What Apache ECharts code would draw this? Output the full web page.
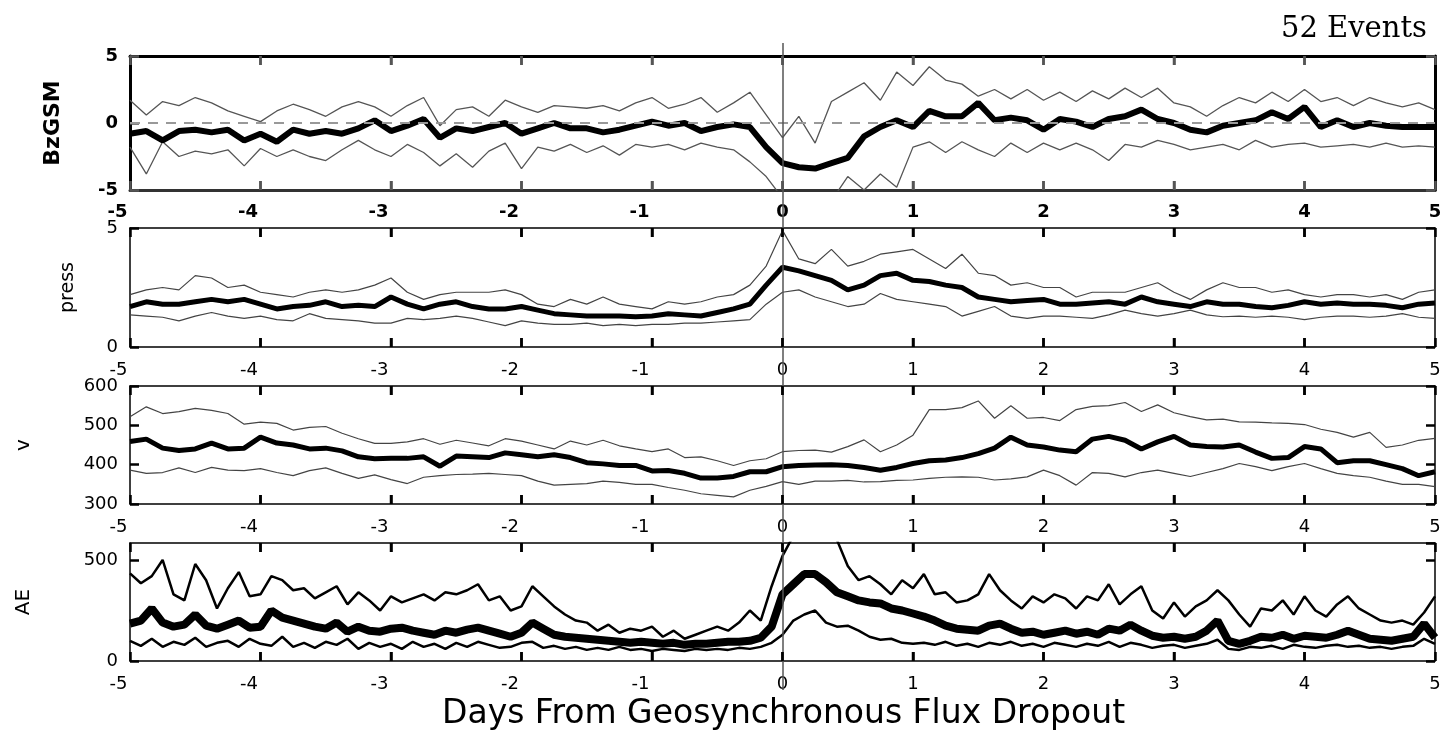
<!DOCTYPE html>
<html>
<head>
<meta charset="utf-8">
<title>52 Events</title>
<script src="https://cdn.jsdelivr.net/npm/echarts@6/dist/echarts.min.js"></script>
<style>
	html, body { margin: 0; padding: 0; background: #fff; }
	#chart { width: 1448px; height: 736px; }
</style>
</head>
<body>
<div id="chart"></div>
<script>
// superposed epoch: quartiles and median, 3-hourly, -5 .. +5 days (81 samples)
var bzUpper = [1.7, 0.6, 1.6, 1.3, 1.9, 1.5, 0.9, 0.5, 0.1, 0.9, 1.4, 1.0, 0.5, 1.2, 1.6, 1.2, 0.5, 1.3, 1.9, -0.2,
	1.0, 1.2, 0.5, 1.7, 1.2, 0.8, 1.3, 1.2, 1.1, 1.3, 0.9, 1.5, 1.9, 1.1, 1.4, 1.9, 0.8, 1.5, 2.3, 0.6,
	-1.1, 0.5, -1.5, 1.6, 2.3, 3.0, 1.7, 3.8, 2.8, 4.2, 3.2, 2.9, 2.0, 2.5, 1.8, 2.5, 1.7, 2.3, 1.6, 2.4,
	1.8, 2.6, 1.9, 2.6, 1.5, 1.2, 0.5, 1.3, 1.9, 1.5, 2.3, 1.6, 2.5, 1.6, 1.9, 1.3, 1.9, 1.5, 1.2, 1.5, 1.0];
var bzMedian = [-0.8, -0.6, -1.3, -0.6, -0.5, -0.7, -0.5, -1.3, -0.8, -1.4, -0.5, -0.8, -0.6, -0.8, -0.4, 0.2, -0.6, -0.2, 0.3, -1.1,
	-0.4, -0.6, -0.3, 0.0, -0.8, -0.4, 0.0, -0.4, -0.4, -0.7, -0.5, -0.2, 0.1, -0.2, 0.0, -0.6, -0.3, -0.1, -0.3, -1.8,
	-3.0, -3.3, -3.4, -3.0, -2.6, -1.0, -0.3, 0.2, -0.3, 0.9, 0.5, 0.5, 1.5, 0.2, 0.4, 0.2, -0.5, 0.3, 0.1, -0.3,
	0.3, 0.5, 1.0, 0.3, 0.0, -0.5, -0.7, -0.2, 0.0, 0.2, 0.8, 0.3, 1.2, -0.3, 0.2, -0.3, 0.0, -0.2, -0.3, -0.3, -0.3];
var bzLower = [-1.8, -3.8, -1.4, -2.5, -2.1, -2.3, -2.0, -3.2, -1.9, -2.5, -2.0, -2.5, -2.8, -2.0, -1.3, -2.0, -2.5, -1.6, -2.2, -3.2,
	-2.3, -3.3, -2.1, -1.5, -3.4, -1.8, -2.1, -1.6, -2.2, -1.7, -2.4, -1.6, -1.8, -1.6, -2.0, -1.5, -1.8, -2.0, -2.9, -4.0,
	-5.6, -6.5, -6.5, -5.8, -4.0, -5.0, -3.8, -4.8, -1.8, -1.4, -2.2, -1.4, -2.0, -2.5, -1.5, -2.2, -1.5, -2.0, -1.5, -2.0,
	-2.8, -1.6, -1.8, -1.3, -1.6, -2.0, -1.8, -1.6, -2.0, -1.3, -1.8, -1.6, -1.5, -1.8, -1.7, -1.6, -1.8, -1.5, -1.8, -1.7, -1.8];

var pressUpper = [2.2, 2.4, 2.5, 2.4, 3.0, 2.9, 2.5, 2.6, 2.3, 2.2, 2.1, 2.3, 2.4, 2.3, 2.4, 2.6, 2.9, 2.3, 2.0, 2.2,
	2.3, 2.3, 2.3, 2.4, 2.2, 1.8, 1.7, 2.0, 1.8, 2.1, 1.8, 1.7, 1.6, 1.9, 1.8, 1.9, 2.1, 2.2, 2.6, 3.4,
	4.9, 3.7, 3.5, 4.1, 3.4, 3.6, 3.9, 4.0, 4.1, 3.7, 3.3, 3.9, 3.1, 3.0, 2.6, 2.7, 2.5, 2.5, 2.1, 2.3,
	2.3, 2.3, 2.5, 2.7, 2.3, 2.0, 2.4, 2.7, 2.5, 2.5, 2.3, 2.4, 2.2, 2.1, 2.2, 2.2, 2.1, 2.2, 2.0, 2.3, 2.4];
var pressMedian = [1.7, 1.9, 1.8, 1.8, 1.9, 2.0, 1.9, 2.0, 1.8, 1.6, 1.7, 1.75, 1.9, 1.7, 1.75, 1.7, 2.1, 1.8, 1.6, 1.8,
	1.9, 1.7, 1.6, 1.6, 1.7, 1.55, 1.4, 1.35, 1.3, 1.3, 1.3, 1.27, 1.3, 1.4, 1.35, 1.3, 1.45, 1.6, 1.8, 2.6,
	3.35, 3.2, 3.0, 2.8, 2.4, 2.6, 3.0, 3.1, 2.8, 2.75, 2.6, 2.5, 2.1, 2.0, 1.9, 1.95, 2.0, 1.8, 1.8, 1.85,
	1.9, 1.8, 2.1, 1.9, 1.8, 1.7, 1.9, 1.8, 1.8, 1.7, 1.65, 1.75, 1.9, 1.8, 1.85, 1.8, 1.8, 1.75, 1.65, 1.8, 1.85];
var pressLower = [1.35, 1.3, 1.25, 1.1, 1.3, 1.45, 1.3, 1.2, 1.3, 1.15, 1.1, 1.4, 1.2, 1.15, 1.1, 1.0, 1.0, 1.2, 1.15, 1.2,
	1.3, 1.2, 1.05, 0.9, 1.1, 1.0, 0.95, 0.95, 1.0, 0.9, 0.95, 0.9, 0.95, 0.95, 1.0, 1.0, 1.05, 1.1, 1.15, 1.8,
	2.3, 2.4, 2.1, 1.9, 1.7, 1.8, 2.25, 2.0, 1.9, 1.8, 1.7, 1.3, 1.5, 1.7, 1.3, 1.2, 1.3, 1.3, 1.25, 1.2,
	1.35, 1.55, 1.4, 1.3, 1.4, 1.55, 1.35, 1.27, 1.3, 1.25, 1.3, 1.25, 1.15, 1.25, 1.3, 1.3, 1.25, 1.3, 1.4, 1.25, 1.2];

var vUpper = [522, 547, 530, 535, 543, 538, 530, 503, 508, 505, 488, 495, 497, 480, 466, 454, 454, 458, 466, 452,
	462, 455, 448, 466, 460, 450, 440, 460, 450, 462, 448, 440, 433, 440, 418, 420, 410, 398, 410, 415,
	433, 436, 437, 432, 446, 463, 433, 450, 475, 540, 540, 545, 562, 518, 550, 518, 520, 512, 540, 548,
	550, 558, 535, 552, 532, 522, 514, 516, 509, 508, 506, 505, 502, 490, 482, 470, 482, 444, 450, 462, 467];
var vMedian = [459, 465, 442, 436, 440, 455, 440, 442, 470, 455, 450, 440, 442, 435, 420, 415, 416, 416, 420, 396,
	422, 420, 418, 430, 425, 420, 425, 418, 405, 402, 398, 398, 384, 385, 378, 366, 366, 370, 382, 382,
	395, 398, 399, 400, 398, 393, 386, 393, 403, 410, 412, 418, 428, 442, 470, 450, 445, 437, 433, 465,
	472, 462, 440, 458, 472, 450, 446, 445, 450, 432, 416, 418, 446, 440, 405, 410, 410, 400, 390, 372, 382];
var vLower = [386, 378, 380, 392, 380, 393, 386, 385, 390, 380, 372, 385, 392, 378, 365, 374, 362, 352, 368, 372,
	375, 376, 378, 375, 372, 358, 348, 350, 352, 358, 355, 350, 350, 342, 335, 326, 322, 318, 335, 345,
	357, 350, 358, 358, 360, 356, 357, 360, 361, 365, 368, 369, 368, 361, 364, 369, 386, 372, 348, 380,
	378, 369, 380, 386, 378, 370, 380, 390, 403, 395, 385, 395, 403, 390, 378, 372, 368, 358, 350, 350, 344];

// AE read every 2 hours (121 samples)
var aeUpper = [434, 385, 420, 500, 330, 300, 480, 400, 260, 360, 440, 320, 330, 420, 400, 350, 360, 310, 340, 370,
	280, 340, 300, 250, 320, 290, 310, 330, 300, 340, 330, 350, 380, 300, 320, 250, 270, 370, 320, 270,
	230, 200, 190, 150, 180, 140, 160, 150, 170, 120, 150, 110, 130, 150, 170, 150, 190, 250, 200, 370,
	520, 620, 640, 650, 620, 600, 470, 400, 420, 380, 330, 400, 360, 430, 330, 340, 290, 300, 330, 430,
	350, 300, 260, 320, 290, 330, 310, 260, 320, 300, 380, 280, 330, 370, 250, 210, 290, 220, 270, 300,
	350, 300, 230, 170, 260, 250, 300, 230, 320, 250, 220, 280, 320, 260, 230, 200, 190, 200, 180, 240, 320];
var aeMedian = [185, 200, 260, 190, 170, 180, 230, 175, 160, 180, 200, 165, 170, 250, 215, 200, 185, 170, 160, 190,
	145, 170, 150, 145, 160, 165, 150, 140, 130, 150, 140, 155, 165, 150, 135, 120, 140, 190, 160, 130,
	120, 115, 110, 105, 100, 95, 90, 95, 90, 85, 90, 80, 85, 85, 90, 95, 95, 100, 115, 170,
	330, 380, 430, 430, 390, 340, 320, 300, 290, 285, 260, 250, 235, 220, 200, 175, 160, 155, 150, 175,
	185, 160, 140, 145, 130, 140, 150, 135, 145, 130, 160, 150, 180, 150, 125, 115, 120, 110, 120, 150,
	200, 100, 85, 100, 120, 115, 130, 110, 125, 120, 115, 130, 150, 130, 110, 105, 100, 110, 120, 185, 115];
var aeLower = [100, 75, 110, 70, 95, 80, 115, 70, 90, 100, 70, 110, 85, 75, 120, 70, 90, 65, 95, 80,
	110, 60, 90, 70, 85, 60, 95, 70, 85, 60, 90, 70, 95, 80, 65, 70, 90, 95, 65, 75,
	60, 70, 55, 65, 55, 70, 55, 60, 50, 60, 55, 50, 60, 55, 60, 55, 65, 60, 70, 90,
	130, 200, 230, 250, 190, 170, 175, 150, 120, 105, 110, 90, 85, 90, 80, 95, 75, 85, 70, 90,
	80, 95, 75, 85, 70, 90, 80, 70, 85, 75, 95, 70, 90, 80, 65, 75, 80, 65, 75, 85,
	105, 60, 55, 70, 65, 75, 60, 80, 70, 65, 75, 80, 70, 75, 65, 70, 60, 70, 75, 110, 85];

var panelNames = ['BzGSM', 'press', 'v', 'AE'];
var dayTicks = [-4, -3, -2, -1, 0, 1, 2, 3, 4];

var chartDom = document.getElementById('chart');
var myChart = echarts.init(chartDom);

// turn a list of values into [day, value] pairs
function pairs(vals, step) {
	var out = [];
	for (var i = 0; i < vals.length; i++) {
		out.push([-5 + i * step, vals[i]]);
	}
	return out;
}

function dayLabel(v) {
	// minus sign hangs to the left of the tick
	return v < 0 ? v + '\u2007\u2007' : '' + v;
}

var grids = [
	{ left: 130, width: 1305, top: 56, height: 134 },
	{ left: 130, width: 1305, top: 228, height: 119 },
	{ left: 130, width: 1305, top: 386, height: 118 },
	{ left: 130, width: 1305, top: 543, height: 118 },
	// full height grid for the zero-epoch line
	{ left: 130, width: 1305, top: 43, height: 647 }
];

var yRanges = [
	{ min: -5, max: 5, interval: 5 },
	{ min: 0, max: 5, interval: 5 },
	{ min: 300, max: 600, interval: 100 },
	{ min: 0, max: 584, interval: 500 }
];
var nameGaps = [66, 52, 96, 96];
var nameSizes = [22, 19, 20, 20];
var labelMargins = [13, 14, 14, 14];
var tickColors = ['#555', '#000', '#000', '#000'];

function ticks(color) {
	return { show: true, inside: true, length: 9, lineStyle: { color: color, width: 2.5 } };
}
// frame edges are drawn as axis lines (first panel has a heavier frame)
function edge(p, color) {
	return { show: true, onZero: false, lineStyle: { color: color, width: p == 0 ? 3 : 1.5 } };
}

var xAxes = [];
var yAxes = [];
for (var p = 0; p < 4; p++) {
	var bold = p == 0 ? 'bold' : 'normal';
	xAxes.push({
		type: 'value', gridIndex: p, position: 'bottom', min: -5, max: 5, interval: 1,
		axisLine: edge(p, p == 0 ? '#333' : '#000'),
		axisTick: ticks(tickColors[p]),
		splitLine: { show: false },
		axisLabel: { margin: labelMargins[p], color: '#000', fontFamily: 'DejaVu Sans', fontSize: 18, fontWeight: bold, formatter: dayLabel }
	});
	yAxes.push({
		type: 'value', gridIndex: p, position: 'left',
		min: yRanges[p].min, max: yRanges[p].max, interval: yRanges[p].interval,
		name: panelNames[p], nameLocation: 'middle', nameGap: nameGaps[p], nameRotate: 90,
		nameTextStyle: { color: '#000', fontFamily: 'DejaVu Sans', fontSize: nameSizes[p], fontWeight: bold },
		axisLine: edge(p, '#000'),
		axisTick: ticks(tickColors[p]),
		splitLine: { show: false },
		axisLabel: { margin: 12, color: '#000', fontFamily: 'DejaVu Sans', fontSize: 18, fontWeight: bold, showMaxLabel: p != 3 }
	});
}
// mirrored ticks on top and right
for (var p = 0; p < 4; p++) {
	xAxes.push({
		type: 'value', gridIndex: p, position: 'top', min: -5, max: 5, interval: 1,
		axisLine: edge(p, '#000'), axisLabel: { show: false }, splitLine: { show: false },
		axisTick: ticks(tickColors[p])
	});
	yAxes.push({
		type: 'value', gridIndex: p, position: 'right',
		min: yRanges[p].min, max: yRanges[p].max, interval: yRanges[p].interval,
		axisLine: edge(p, '#000'), axisLabel: { show: false }, splitLine: { show: false },
		axisTick: ticks(tickColors[p])
	});
}
xAxes.push({ type: 'value', gridIndex: 4, min: -5, max: 5, show: false });
yAxes.push({ type: 'value', gridIndex: 4, min: 0, max: 1, show: false });

function lineSeries(p, vals, step, width, color) {
	return {
		type: 'line', xAxisIndex: p, yAxisIndex: p,
		data: pairs(vals, step),
		showSymbol: false, symbol: 'none', silent: true,
		lineStyle: { color: color, width: width },
		z: width > 3 ? 4 : 3
	};
}

// short day ticks on the inner side of the bottom and top frame edges
function dayTickSeries(p) {
	var pts = [];
	for (var i = 0; i < dayTicks.length; i++) pts.push([dayTicks[i], yRanges[p].min]);
	return {
		type: 'custom', xAxisIndex: p, yAxisIndex: p, silent: true, z: 6, clip: false,
		data: pts,
		renderItem: function (params, api) {
			var lo = api.coord([api.value(0), yRanges[p].min]);
			var hi = api.coord([api.value(0), yRanges[p].max]);
			var st = { stroke: tickColors[p], lineWidth: 2.5 };
			return {
				type: 'group',
				children: [
					{ type: 'line', shape: { x1: lo[0], y1: lo[1], x2: lo[0], y2: lo[1] - 9 }, style: st },
					{ type: 'line', shape: { x1: hi[0], y1: hi[1], x2: hi[0], y2: hi[1] + 9 }, style: st }
				]
			};
		}
	};
}

var series = [
	lineSeries(0, bzUpper, 0.125, 1.3, '#555'),
	lineSeries(0, bzLower, 0.125, 1.3, '#555'),
	lineSeries(0, bzMedian, 0.125, 6, '#000'),
	lineSeries(1, pressUpper, 0.125, 1.2, '#444'),
	lineSeries(1, pressLower, 0.125, 1.2, '#444'),
	lineSeries(1, pressMedian, 0.125, 5, '#000'),
	lineSeries(2, vUpper, 0.125, 1.2, '#444'),
	lineSeries(2, vLower, 0.125, 1.2, '#444'),
	lineSeries(2, vMedian, 0.125, 5, '#000'),
	lineSeries(3, aeUpper, 1 / 12, 2.5, '#000'),
	lineSeries(3, aeLower, 1 / 12, 2.5, '#000'),
	lineSeries(3, aeMedian, 1 / 12, 8, '#000')
];
// dashed zero line in the Bz panel
series[1].markLine = {
	symbol: 'none', silent: true, label: { show: false },
	lineStyle: { color: '#999', width: 2, type: [10, 8] },
	data: [{ yAxis: 0 }]
};
for (var p = 0; p < 4; p++) {
	series.push(dayTickSeries(p));
}
// epoch line through all panels
series.push({
	type: 'line', xAxisIndex: 8, yAxisIndex: 8, data: [[0, 0]],
	showSymbol: false, symbol: 'none', lineStyle: { opacity: 0 }, silent: true, z: 2,
	markLine: {
		symbol: 'none', silent: true, label: { show: false },
		lineStyle: { color: '#555', width: 1.5, type: 'solid' },
		data: [{ xAxis: 0 }]
	}
});

var option = {
	animation: false,
	backgroundColor: '#fff',
	title: [{
		text: '52 Events', right: 16, top: 10,
		textStyle: { fontFamily: 'DejaVu Serif', fontSize: 29, fontWeight: 'normal', color: '#000' }
	}, {
		text: 'Days From Geosynchronous Flux Dropout', left: 437, top: 693,
		textStyle: { fontFamily: 'DejaVu Sans', fontSize: 33, fontWeight: 'normal', color: '#000' }
	}],
	grid: grids,
	xAxis: xAxes,
	yAxis: yAxes,
	series: series
};
myChart.setOption(option);
</script>
</body>
</html>
